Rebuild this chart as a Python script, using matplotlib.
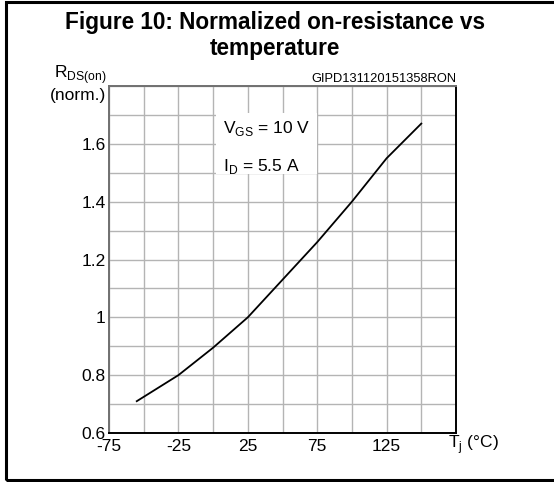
import numpy as np
import matplotlib
matplotlib.use('Agg')
import matplotlib.pyplot as plt
from matplotlib.patches import Rectangle

plt.rcParams['font.family'] = ['Liberation Sans', 'DejaVu Sans']
plt.rcParams['mathtext.fontset'] = 'custom'
plt.rcParams['mathtext.rm'] = 'Liberation Sans'
plt.rcParams['axes.unicode_minus'] = False

# data
tj = [-55, -25, 0, 25, 50, 75, 100, 125, 150]
rds = [0.71, 0.80, 0.895, 1.0, 1.13, 1.26, 1.40, 1.55, 1.67]
xticks = [-75, -25, 25, 75, 125]
yticks = [0.6, 0.8, 1.0, 1.2, 1.4, 1.6]
ytick_labels = ['0.6', '0.8', '1', '1.2', '1.4', '1.6']

fig = plt.figure(figsize=(5.54, 4.82), dpi=100)

# outer frame
fig.patches.append(Rectangle((6/554, 1 - 480/482), 1.2, 478/482, transform=fig.transFigure,
                             fill=False, edgecolor='black', linewidth=2.2))

fig.text(0.497, 1 - 22/482, 'Figure 10: Normalized on-resistance vs', ha='center', va='center',
         fontsize=16.3, fontweight='bold')
fig.text(0.497, 1 - 48/482, 'temperature', ha='center', va='center',
         fontsize=16.3, fontweight='bold')

ax = fig.add_axes([109/554, 1 - 433/482, 347/554, 347/482])
ax.plot(tj, rds, color='black', lw=1.3, zorder=3)
ax.set_xlim(-75, 175)
ax.set_ylim(0.6, 1.8)
ax.set_xticks(xticks)
ax.set_xticks(np.arange(-75, 176, 25), minor=True)
ax.set_yticks(yticks)
ax.set_yticklabels(ytick_labels)
ax.set_yticks(np.arange(0.6, 1.81, 0.1), minor=True)
ax.grid(True, which='both', color='#b4b4b4', lw=1.0)
ax.set_axisbelow(True)
ax.tick_params(which='both', length=0, labelsize=12.5)
ax.tick_params(axis='x', pad=4.5)
ax.tick_params(axis='y', pad=2.5)
for lbl in ax.get_yticklabels():
    lbl.set_verticalalignment('center_baseline')

for side in ['left', 'top']:
    ax.spines[side].set_color('#707070')
    ax.spines[side].set_linewidth(1.4)
for side in ['right', 'bottom']:
    ax.spines[side].set_color('black')
    ax.spines[side].set_linewidth(1.4)

# condition box
ax.add_patch(Rectangle((2, 1.495), 73, 0.21, facecolor='white', edgecolor='none', zorder=2))
ax.text(7, 1.652, r'V$_{\mathrm{GS}}$ = 10 V', fontsize=12.5, va='center', zorder=4)
ax.text(7, 1.52, r'I$_{\mathrm{D}}$ = 5.5 A', fontsize=12.5, va='center', zorder=4)

ax.text(1.0, 1.004, 'GIPD131120151358RON', transform=ax.transAxes, ha='right', va='bottom',
        fontsize=9.3)
ax.text(-0.008, 1.0, r'R$_{\mathrm{DS(on)}}$', transform=ax.transAxes, ha='right', va='bottom',
        fontsize=12.5)
ax.text(-0.008, 0.995, '(norm.)', transform=ax.transAxes, ha='right', va='top', fontsize=12.5)
ax.text(1.0 - 8/347, -12/347, r'T$_{\mathrm{j}}$ (°C)', transform=ax.transAxes, ha='left', va='center',
        fontsize=12.5)

fig.savefig('out.png', dpi=100)
